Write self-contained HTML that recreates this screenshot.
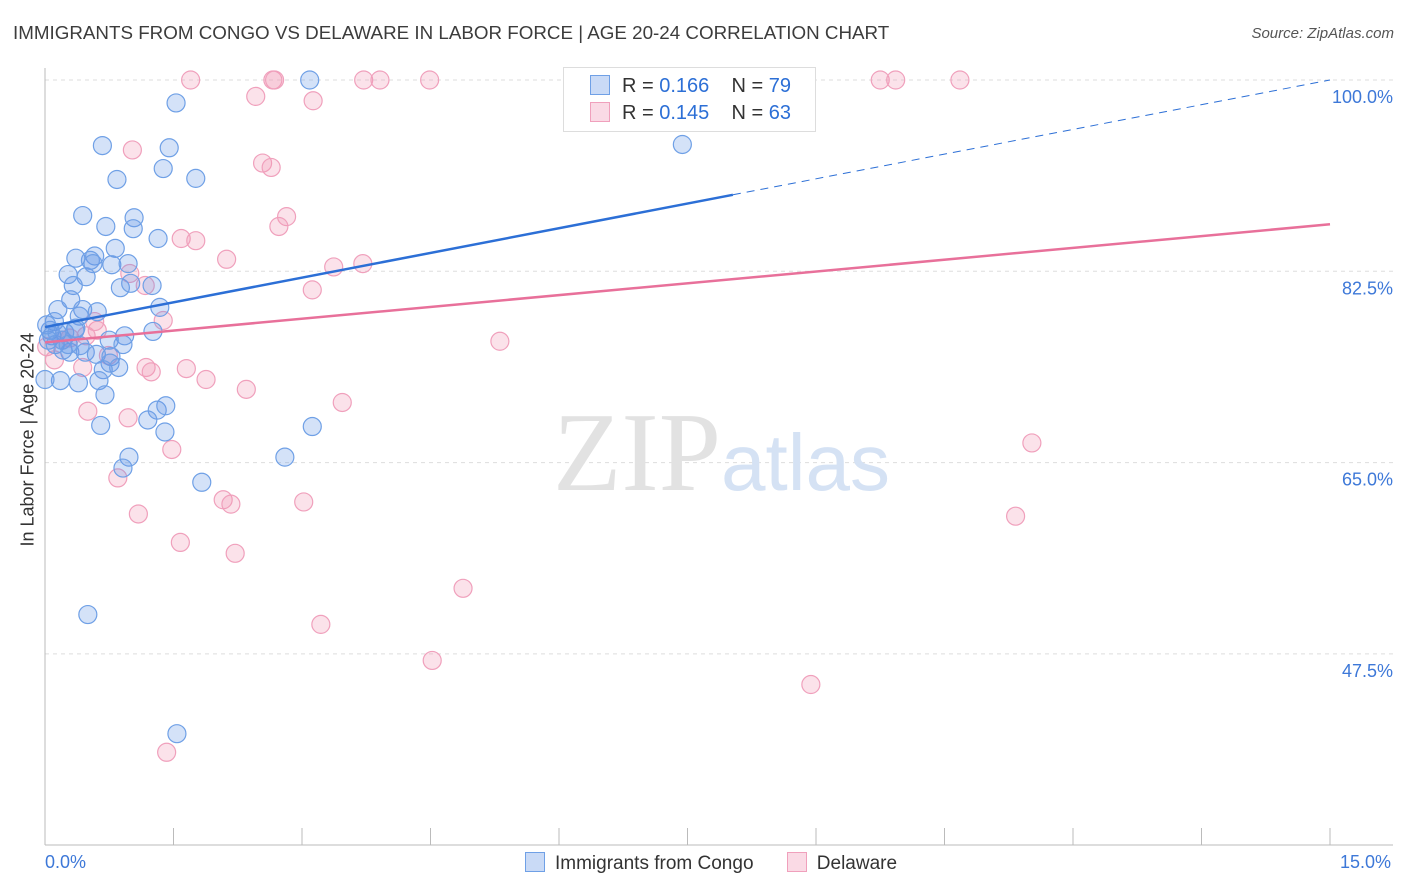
<!DOCTYPE html>
<html><head><meta charset="utf-8"><style>
body{margin:0;background:#fff;font-family:"Liberation Sans",sans-serif;}
#wrap{position:relative;width:1406px;height:892px;overflow:hidden;}
.t{position:absolute;white-space:nowrap;}
</style></head><body>
<div id="wrap">
<div class="t" style="left:13px;top:22px;font-size:18.8px;color:#3c3c3c;">IMMIGRANTS FROM CONGO VS DELAWARE IN LABOR FORCE | AGE 20-24 CORRELATION CHART</div>
<div class="t" style="right:12px;top:25px;font-size:15px;color:#555;font-style:italic;">Source: ZipAtlas.com</div>
<div class="t" style="left:-62px;top:446px;font-size:18px;color:#333;transform:rotate(-90deg);transform-origin:center;width:180px;text-align:center;">In Labor Force | Age 20-24</div>
<svg id="svg" width="1406" height="892" style="position:absolute;left:0;top:0"></svg>
<div style="position:absolute;left:563px;top:67px;width:251px;height:63px;border:1px solid #ddd;background:#fff;font-size:20px;color:#333;">
 <div style="position:absolute;left:26px;top:7px;"><span style="display:inline-block;width:18px;height:18px;background:rgba(100,150,230,0.35);border:1px solid #6fa0e6;vertical-align:-3px;margin-right:12px"></span>R = <span style="color:#2c6fd6">0.166</span>&nbsp;&nbsp;&nbsp; N = <span style="color:#2c6fd6">79</span></div>
 <div style="position:absolute;left:26px;top:34px;"><span style="display:inline-block;width:18px;height:18px;background:rgba(240,150,180,0.35);border:1px solid #f0a0bc;vertical-align:-3px;margin-right:12px"></span>R = <span style="color:#2c6fd6">0.145</span>&nbsp;&nbsp;&nbsp; N = <span style="color:#2c6fd6">63</span></div>
</div>
<div class="t" style="left:45px;top:852px;font-size:18px;color:#3d78d8;">0.0%</div>
<div class="t" style="left:1340px;top:852px;font-size:18px;color:#3d78d8;">15.0%</div>
<div style="position:absolute;left:525px;top:852px;font-size:19px;color:#333;">
 <span><span style="display:inline-block;width:18px;height:18px;background:rgba(100,150,230,0.35);border:1px solid #6fa0e6;vertical-align:-3px;margin-right:10px"></span>Immigrants from Congo</span>
 <span style="margin-left:28px"><span style="display:inline-block;width:18px;height:18px;background:rgba(240,150,180,0.35);border:1px solid #f0a0bc;vertical-align:-3px;margin-right:10px"></span>Delaware</span>
</div>
</div>
<script>
const yTicks=[100,82.5,65,47.5];
const yTickLabels=["100.0%","82.5%","65.0%","47.5%"];
const xTicks=[0,1.5,3,4.5,6,7.5,9,10.5,12,13.5,15];
const blueX=[3.09,1.53,0.67,1.45,0.84,1.38,1.76,7.44,0.44,1.04,0.71,1.03,1.32,0.82,0.58,0.36,0.53,0.56,0.78,0.97,0.27,0.48,0.33,0.88,1.00,1.25,0.30,0.15,0.44,0.61,1.34,0.40,0.11,0.36,0.06,0.23,0.08,0.04,0.12,0.21,0.29,0.47,0.60,0.75,0.93,1.26,0.91,0.77,0.76,0.68,0.86,0.63,0.18,0.39,0.70,0.00,1.31,1.41,1.20,0.65,1.40,3.12,0.98,0.91,2.80,1.83,0.50,1.54,0.02,0.14,0.20,0.41,0.27,0.35];
const blueY=[100,97.9,94.0,93.8,90.9,91.9,91.0,94.1,87.6,87.4,86.6,86.4,85.5,84.6,83.9,83.7,83.5,83.2,83.1,83.2,82.2,82.0,81.2,81.0,81.4,81.2,79.9,79.0,79.0,78.8,79.2,78.4,77.9,77.3,77.1,76.9,76.6,76.2,75.8,75.3,75.1,75.1,74.9,76.2,76.6,77.0,75.8,74.7,74.1,73.5,73.7,72.5,72.5,72.3,71.2,72.6,69.8,70.2,68.9,68.4,67.8,68.3,65.5,64.5,65.5,63.2,51.1,40.2,77.6,76.9,76.2,75.7,75.8,77.1];
const pinkX=[1.70,2.66,2.68,3.72,3.91,4.49,9.75,9.93,10.68,2.46,3.13,1.02,2.54,2.64,2.82,2.73,1.59,1.76,2.12,3.37,3.71,0.99,1.17,3.12,1.38,0.61,0.29,0.02,0.74,0.11,0.44,1.18,1.24,1.65,1.88,2.35,3.47,5.31,0.50,0.97,1.48,11.52,0.85,2.08,2.17,3.02,1.09,11.33,1.58,2.22,4.88,3.22,4.52,8.94,1.42,0.48,0.20,0.58];
const pinkY=[100,100,100,100,100,100,100,100,100,98.5,98.1,93.6,92.4,92.0,87.5,86.6,85.5,85.3,83.6,82.9,83.2,82.3,81.2,80.8,78.0,77.1,76.4,75.6,74.8,74.4,73.7,73.7,73.3,73.6,72.6,71.7,70.5,76.1,69.7,69.1,66.2,66.8,63.6,61.6,61.2,61.4,60.3,60.1,57.7,56.7,53.5,50.2,46.9,44.7,38.5,76.6,76.2,77.9];
const blueTrend=[77.4,100];const blueSolidEnd=8.03;
const pinkTrend=[76.0,86.8];
const X=v=>45+v/15*1285;
const Y=v=>80+(100-v)/17.5*191.3;
const NS="http://www.w3.org/2000/svg";
const svg=document.getElementById('svg');
function mk(tag,attrs){const e=document.createElementNS(NS,tag);for(const k in attrs)e.setAttribute(k,attrs[k]);svg.appendChild(e);return e;}
yTicks.forEach((v,i)=>{
 const g=mk('line',{x1:45,x2:1393,y1:Y(v),y2:Y(v),stroke:'#ddd','stroke-dasharray':'4,4'});
 
 
 const t=mk('text',{x:1393,y:Y(v)+23,'text-anchor':'end','font-size':18,fill:'#3d78d8','font-family':'Liberation Sans, sans-serif'});
 t.textContent=yTickLabels[i];
 
 
});
const ax=mk('line',{x1:45,x2:45,y1:68,y2:845,stroke:'#bbb'});


const bx=mk('line',{x1:45,x2:1393,y1:845,y2:845,stroke:'#bbb'});


xTicks.forEach(v=>{const l=mk('line',{x1:X(v),x2:X(v),y1:828,y2:845,stroke:'#bbb'});
 
 });
const wm=mk('text',{x:553,y:490,'text-anchor':'start','font-size':112,fill:'#e2e2e2','font-family':'Liberation Serif, serif'});
wm.innerHTML='ZIP<tspan fill="#d5e2f4" font-family="Liberation Sans, sans-serif" font-size="80">atlas</tspan>';


function pts(xs,ys,fill,stroke,name){xs.forEach((x,i)=>{
 const c=mk('circle',{cx:X(x),cy:Y(ys[i]),r:9,fill:fill,stroke:stroke,'stroke-width':1.2});
 
 });}
pts(pinkX,pinkY,'rgba(240,150,180,0.28)','#f0a0bc','delaware-point');
pts(blueX,blueY,'rgba(100,150,230,0.28)','#6fa0e6','congo-point');
const by=x=>blueTrend[0]+(blueTrend[1]-blueTrend[0])*x/15;
const l1=mk('line',{x1:X(0),y1:Y(by(0)),x2:X(blueSolidEnd),y2:Y(by(blueSolidEnd)),stroke:'#2c6fd6','stroke-width':2.5});


const l2=mk('line',{x1:X(blueSolidEnd),y1:Y(by(blueSolidEnd)),x2:X(15),y2:Y(by(15)),stroke:'#2c6fd6','stroke-width':1,'stroke-dasharray':'8,6'});


const l3=mk('line',{x1:X(0),y1:Y(pinkTrend[0]),x2:X(15),y2:Y(pinkTrend[1]),stroke:'#e8709a','stroke-width':2.5});


</script>
</body></html>
